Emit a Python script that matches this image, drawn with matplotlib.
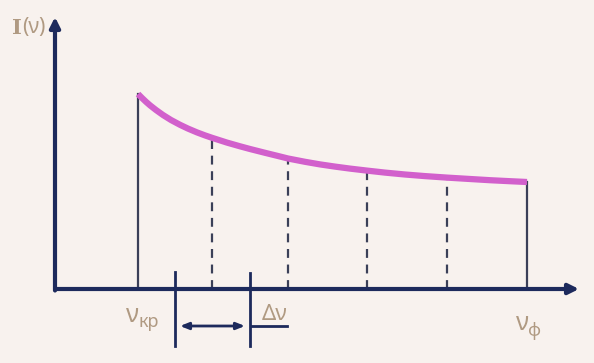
import numpy as np
import matplotlib.pyplot as plt

# curve I(nu) (pixel-like units, y grows downward)
curve_x = [138, 142, 146, 150, 156, 163, 171, 180, 188, 197, 205, 212, 227, 240, 250, 265, 278, 288, 305, 320, 335, 350, 367, 385, 405, 425, 447, 470, 490, 510, 527]
curve_y = [94, 98, 101.8, 105.3, 110, 115, 120, 124.8, 128.6, 132.4, 135.4, 137.8, 142.6, 146.3, 149, 152.8, 156, 158.5, 161.8, 164.4, 166.6, 168.6, 170.6, 172.6, 174.5, 176.1, 177.6, 179, 180.2, 181.2, 182]

# vertical lines under the curve
solid_x = [138, 527]
solid_top = [94, 182]
dashed_x = [212, 288, 367, 447]
dashed_top = [137.8, 158.5, 170.6, 177.6]

axis_y0 = 289
bg = "#f8f2ee"
navy = "#1d2a5c"
grey = "#3b4058"
txt = "#b09a82"

fig = plt.figure(figsize=(5.94, 3.63), dpi=100)
fig.patch.set_facecolor(bg)
ax = fig.add_axes([0, 0, 1, 1])
ax.set_facecolor(bg)
ax.set_xlim(0, 594)
ax.set_ylim(363, 0)
ax.axis("off")

# axes with arrows
ax.annotate("", xy=(55, 17), xytext=(55, axis_y0 + 1.5),
            arrowprops=dict(arrowstyle="-|>,head_length=0.6,head_width=0.3", color=navy, lw=3, shrinkA=0, shrinkB=0))
ax.annotate("", xy=(579, axis_y0), xytext=(55, axis_y0),
            arrowprops=dict(arrowstyle="-|>,head_length=0.6,head_width=0.3", color=navy, lw=3, shrinkA=0, shrinkB=0))

# verticals
for x, t in zip(solid_x, solid_top):
    ax.plot([x, x], [axis_y0, t], color=grey, lw=1.6, zorder=2)
for x, t in zip(dashed_x, dashed_top):
    ax.plot([x, x], [axis_y0, t], color=grey, lw=1.6, ls=(0, (4, 3)), zorder=2)

# curve
ax.plot(curve_x, curve_y, color="#d260cc", lw=4.5, solid_capstyle="butt",
        solid_joinstyle="round", zorder=3)

# delta nu marker
ax.plot([175, 175], [272, 346], color=navy, lw=2)
ax.plot([250, 250], [273, 346], color=navy, lw=2)
ax.annotate("", xy=(180, 326), xytext=(245, 326),
            arrowprops=dict(arrowstyle="<|-|>,head_length=0.5,head_width=0.2", color=navy, lw=2, shrinkA=0, shrinkB=0))
ax.plot([251, 287], [326, 326], color=navy, lw=2)

# labels
ax.text(12, 28, "I", fontsize=15, fontweight="bold", family="DejaVu Serif", color=txt, va="center", ha="left")
ax.text(22, 28, "(ν)", fontsize=15, family="Noto Sans", color=txt, va="center", ha="left")
ax.text(126, 322, "ν", fontsize=18, family="Noto Sans", color=txt, va="baseline", ha="left")
ax.text(139, 327, "кр", fontsize=13, family="Noto Sans", color=txt, va="baseline", ha="left")
ax.text(262, 320, "Δν", fontsize=16, family="Noto Sans", color=txt, va="baseline", ha="left")
ax.text(516, 330, "ν", fontsize=18, family="Noto Sans", color=txt, va="baseline", ha="left")
ax.text(528, 336, "ϕ", fontsize=13, family="Noto Sans", color=txt, va="baseline", ha="left")

fig.savefig("out.png", dpi=100, facecolor=bg)
